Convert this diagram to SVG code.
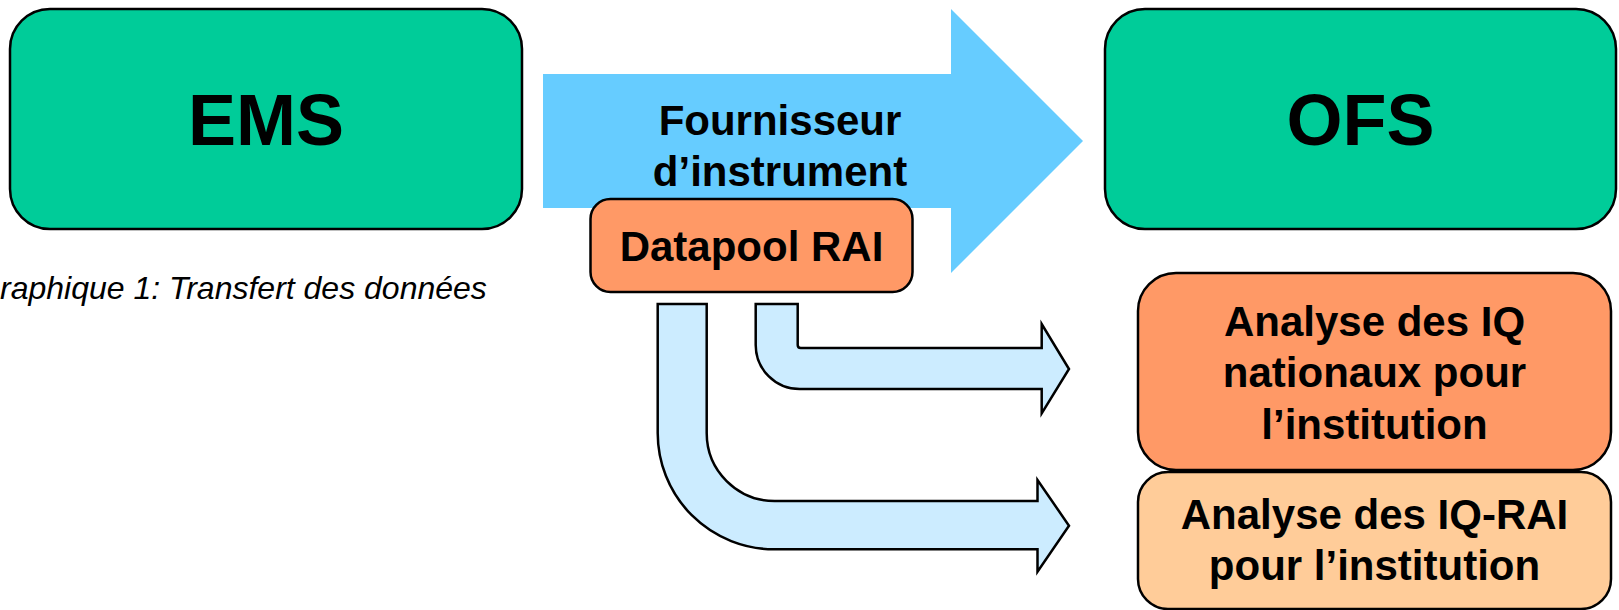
<svg xmlns="http://www.w3.org/2000/svg" width="1619" height="610" viewBox="0 0 1619 610">
<style>
.box{stroke:#000;stroke-width:2.5}
.green{fill:#00CC99}
.orange{fill:#FF9966}
.peach{fill:#FFCC99}
.t{font-family:"Liberation Sans",Arial,sans-serif;font-weight:bold;fill:#000;text-anchor:middle}
.big{font-size:72px}
.mid{font-size:42px}
.cap{font-family:"Liberation Sans",Arial,sans-serif;font-style:italic;font-size:32px;fill:#000}
.flow{fill:#CCECFF;stroke:#000;stroke-width:2.5;stroke-linejoin:miter}
</style>
<rect width="1619" height="610" fill="#fff"/>
<g id="connectors">
<path id="main-arrow" d="M543 74 L951 74 L951 9 L1083 141 L951 273 L951 208 L543 208 Z" fill="#66CCFF"/>
<path id="flow-nat" class="flow" d="M755.7 304 L797.7 304 L797.7 345 Q797.7 348 800.7 348 L1041.7 348 L1041.7 324 L1069 369 L1041.7 413.3 L1041.7 389 L799.7 389 A44 44 0 0 1 755.7 345 Z"/>
<path id="flow-rai" class="flow" d="M657.7 304 L706.7 304 L706.7 433 A68 68 0 0 0 774.7 501 L1037.5 501 L1037.5 480 L1069 525.7 L1037.5 571.7 L1037.5 549.3 L774 549.3 A116.3 116.3 0 0 1 657.7 433 Z"/>
</g>
<g id="fournisseur">
<text class="t mid" x="780" y="135">Fournisseur</text>
<text class="t mid" x="780" y="186">d’instrument</text>
</g>
<g id="ems">
<rect class="box green" x="10" y="9" width="512" height="220" rx="40"/>
<text class="t big" x="266" y="145">EMS</text>
</g>
<g id="ofs">
<rect class="box green" x="1105" y="9" width="511" height="220" rx="40"/>
<text class="t big" x="1360.5" y="145">OFS</text>
</g>
<g id="datapool">
<rect class="box orange" x="590.5" y="199" width="322" height="93" rx="20"/>
<text class="t mid" x="751.5" y="261">Datapool RAI</text>
</g>
<g id="caption">
<text class="cap" x="0" y="299">raphique 1: Transfert des données</text>
</g>
<g id="analyse-nat">
<rect class="box orange" x="1138" y="273" width="473" height="197" rx="38"/>
<text class="t mid" x="1374.5" y="336">Analyse des IQ</text>
<text class="t mid" x="1374.5" y="387">nationaux pour</text>
<text class="t mid" x="1374.5" y="439">l’institution</text>
</g>
<g id="analyse-rai">
<rect class="box peach" x="1138" y="472" width="473" height="137" rx="30"/>
<text class="t mid" x="1374.5" y="529">Analyse des IQ-RAI</text>
<text class="t mid" x="1374.5" y="580">pour l’institution</text>
</g>
</svg>
